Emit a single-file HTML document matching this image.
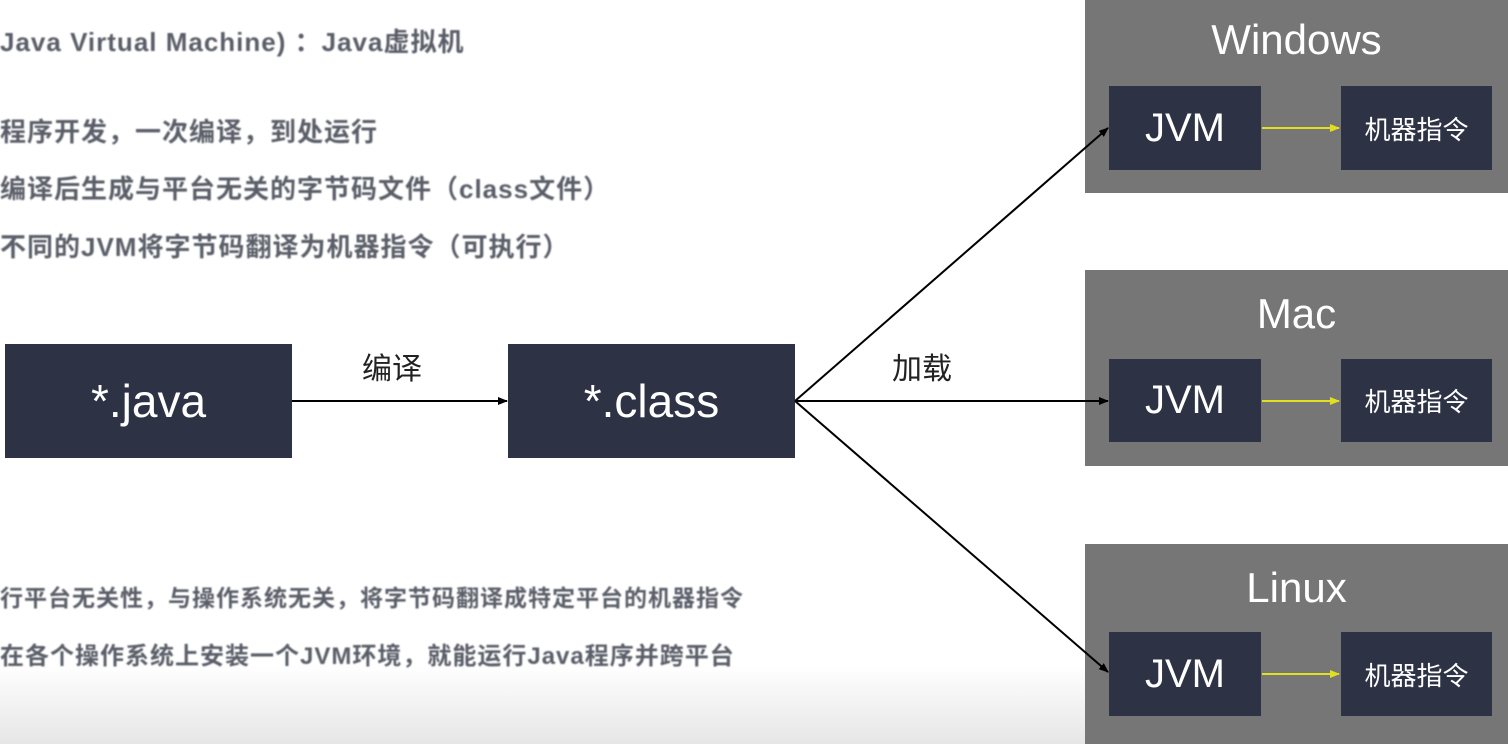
<!DOCTYPE html>
<html><head><meta charset="utf-8"><style>
html,body{margin:0;padding:0;}
body{width:1508px;height:744px;position:relative;overflow:hidden;background:linear-gradient(#fff 0,#fff 665px,#e6e6e6 744px);font-family:"Liberation Sans","Noto Sans CJK SC",sans-serif;}
.t{position:absolute;left:0;color:#5a5e68;font-size:26px;white-space:nowrap;filter:blur(0.8px);letter-spacing:1px;font-weight:bold;}
.b{position:absolute;background:#2d3345;color:#fff;display:flex;align-items:center;justify-content:center;}
.g{position:absolute;left:1085px;width:423px;background:#767676;}
.gt{position:absolute;left:0;width:423px;text-align:center;color:#fff;font-size:42px;}
.l{position:absolute;font-size:30px;color:#222;}
</style></head><body>
<div class="t" style="top:22px;width:548px;">Java Virtual Machine) ：Java虚拟机</div>
<div class="t" style="top:112px;">程序开发，一次编译，到处运行</div>
<div class="t" style="top:169px;">编译后生成与平台无关的字节码文件（class文件）</div>
<div class="t" style="top:227px;">不同的JVM将字节码翻译为机器指令（可执行）</div>
<div class="t" style="top:579px;font-size:23px;">行平台无关性，与操作系统无关，将字节码翻译成特定平台的机器指令</div>
<div class="t" style="top:636px;font-size:24px;">在各个操作系统上安装一个JVM环境，就能运行Java程序并跨平台</div>

<div class="b" style="left:5px;top:344px;width:287px;height:114px;font-size:46px;">*.java</div>
<div class="b" style="left:508px;top:344px;width:287px;height:114px;font-size:46px;">*.class</div>
<div class="l" style="left:362px;top:344px;">编译</div>
<div class="l" style="left:892px;top:344px;">加载</div>

<div class="g" style="top:0;height:193px;"><div class="gt" style="top:16px;">Windows</div></div>
<div class="g" style="top:270px;height:196px;"><div class="gt" style="top:20px;">Mac</div></div>
<div class="g" style="top:544px;height:200px;"><div class="gt" style="top:20px;">Linux</div></div>

<div class="b" style="left:1109px;top:86px;width:152px;height:84px;font-size:40px;">JVM</div>
<div class="b" style="left:1341px;top:86px;width:151px;height:84px;font-size:26px;">机器指令</div>
<div class="b" style="left:1109px;top:359px;width:152px;height:83px;font-size:40px;">JVM</div>
<div class="b" style="left:1341px;top:359px;width:151px;height:83px;font-size:26px;">机器指令</div>
<div class="b" style="left:1109px;top:632px;width:152px;height:84px;font-size:40px;">JVM</div>
<div class="b" style="left:1341px;top:632px;width:151px;height:84px;font-size:26px;">机器指令</div>

<svg width="1508" height="744" style="position:absolute;left:0;top:0;">
<defs>
<marker id="a" markerWidth="10" markerHeight="8" refX="9" refY="4" orient="auto" markerUnits="userSpaceOnUse"><path d="M0,0 L10,4 L0,8 z" fill="#000"/></marker>
<marker id="y" markerWidth="10" markerHeight="8" refX="9" refY="4" orient="auto" markerUnits="userSpaceOnUse"><path d="M0,0 L10,4 L0,8 z" fill="#e0e020"/></marker>
</defs>
<g stroke="#000" stroke-width="2" fill="none">
<line x1="292" y1="401" x2="507" y2="401" marker-end="url(#a)"/>
<line x1="795" y1="401" x2="1108" y2="128" marker-end="url(#a)"/>
<line x1="795" y1="401" x2="1108" y2="401" marker-end="url(#a)"/>
<line x1="795" y1="401" x2="1108" y2="672" marker-end="url(#a)"/>
</g>
<g stroke="#e0e020" stroke-width="2">
<line x1="1262" y1="128" x2="1339" y2="128" marker-end="url(#y)"/>
<line x1="1262" y1="401" x2="1339" y2="401" marker-end="url(#y)"/>
<line x1="1262" y1="674" x2="1339" y2="674" marker-end="url(#y)"/>
</g>
</svg>
</body></html>
